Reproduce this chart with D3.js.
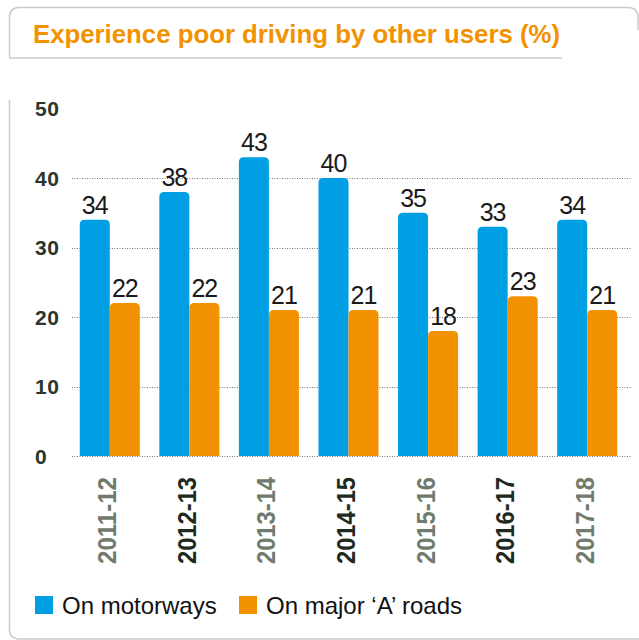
<!DOCTYPE html>
<html>
<head>
<meta charset="utf-8">
<script src="https://cdn.jsdelivr.net/npm/d3@7"></script>
<style>
  html, body { margin: 0; padding: 0; background: #fff; }
  svg { display: block; }
</style>
</head>
<body>
<svg id="chart" width="639" height="640"></svg>
<script>
// Survey years and the share (%) of respondents in each group
const years = ["2011-12", "2012-13", "2013-14", "2014-15", "2015-16", "2016-17", "2017-18"];
const motorways = [34, 38, 43, 40, 35, 33, 34];
const majorARoads = [22, 22, 21, 21, 18, 23, 21];
const seriesNames = ["On motorways", "On major \u2018A\u2019 roads"];
const yTicks = [0, 10, 20, 30, 40, 50];
const titleText = "Experience poor driving by other users (%)";

const colors = ["#009fe3", "#f39200"];
const yearColors = ["#6f7b6d", "#1f2a1f"];

const svg = d3.select("#chart");
const frameColor = "#cbcbcb";

// Title box (rounded top border, underline beneath the heading)
svg.append("path")
  .attr("d", "M9.5,58 V17 Q9.5,7.5 19.5,7.5 H628 Q638,7.5 638,17.5 V30")
  .attr("fill", "none").attr("stroke", frameColor).attr("stroke-width", 1.5);
svg.append("line")
  .attr("x1", 9.5).attr("x2", 562).attr("y1", 58).attr("y2", 58)
  .attr("stroke", frameColor).attr("stroke-width", 1.5);
svg.append("text")
  .attr("x", 33).attr("y", 43)
  .attr("font-family", "Liberation Sans, Arial, sans-serif")
  .attr("font-weight", "bold").attr("font-size", 26)
  .attr("textLength", 527).attr("lengthAdjust", "spacingAndGlyphs")
  .attr("fill", "#f39200")
  .text(titleText);

// Chart panel border (left side with rounded bottom corner)
svg.append("path")
  .attr("d", "M9.5,100 V629 Q9.5,639 19.5,639 H639")
  .attr("fill", "none").attr("stroke", frameColor).attr("stroke-width", 1.5);

// Scales
const x = d3.scaleBand().domain(years).range([70, 627]).paddingInner(0.245).paddingOuter(0.1225);
const xSub = d3.scaleBand().domain([0, 1]).range([0, x.bandwidth()]);
const y = d3.scaleLinear().domain([0, 50]).range([456, 108.5]);

// Dotted gridlines
svg.append("g").selectAll("line")
  .data(yTicks.filter(t => t < 50))
  .join("line")
  .attr("x1", 72).attr("x2", 632)
  .attr("y1", d => Math.round(y(d)) + 0.5).attr("y2", d => Math.round(y(d)) + 0.5)
  .attr("stroke", "#777").attr("stroke-width", 1).attr("stroke-dasharray", "1,1.5");

// Y tick labels
svg.append("g").selectAll("text")
  .data(yTicks)
  .join("text")
  .attr("x", 35).attr("y", d => y(d))
  .attr("dy", "0.36em")
  .attr("font-family", "Liberation Sans, Arial, sans-serif")
  .attr("font-weight", "bold").attr("font-size", 21)
  .attr("letter-spacing", 0.5)
  .attr("fill", "#2b352b")
  .text(d => d);

// Bars with rounded tops
function topRounded(x0, y0, w, h, r) {
  r = Math.min(r, h, w / 2);
  return `M${x0},${y0 + h} V${y0 + r} Q${x0},${y0} ${x0 + r},${y0} H${x0 + w - r} Q${x0 + w},${y0} ${x0 + w},${y0 + r} V${y0 + h} Z`;
}

const series = [motorways, majorARoads];
const barData = [];
series.forEach((vals, s) => vals.forEach((v, i) => barData.push({ year: years[i], s, v })));

svg.append("g").selectAll("path")
  .data(barData)
  .join("path")
  .attr("d", d => topRounded(x(d.year) + xSub(d.s), y(d.v), xSub.bandwidth(), y(0) - y(d.v), 5))
  .attr("fill", d => colors[d.s]);

// Value labels
svg.append("g").selectAll("text")
  .data(barData)
  .join("text")
  .attr("x", d => x(d.year) + xSub(d.s) + xSub.bandwidth() / 2)
  .attr("y", d => y(d.v) - 6)
  .attr("text-anchor", "middle")
  .attr("font-family", "Liberation Sans, Arial, sans-serif")
  .attr("font-size", 25)
  .attr("letter-spacing", -1)
  .attr("fill", "#1a1a1a")
  .text(d => d.v);

// Rotated year labels
svg.append("g").selectAll("text")
  .data(years)
  .join("text")
  .attr("transform", d => `translate(${x(d) + x.bandwidth() / 2 - 2.5},477) rotate(-90)`)
  .attr("text-anchor", "end")
  .attr("dy", "0.36em")
  .attr("font-family", "Liberation Sans, Arial, sans-serif")
  .attr("font-weight", "bold").attr("font-size", 25)
  .attr("textLength", 87).attr("lengthAdjust", "spacingAndGlyphs")
  .attr("fill", (d, i) => yearColors[i % 2])
  .text(d => d);

// Legend
const legendX = [35, 239];
const legend = svg.append("g").selectAll("g")
  .data(seriesNames)
  .join("g")
  .attr("transform", (d, i) => `translate(${legendX[i]},596)`);
legend.append("rect")
  .attr("width", 18).attr("height", 18)
  .attr("fill", (d, i) => colors[i]);
legend.append("text")
  .attr("x", 27).attr("y", 18)
  .attr("font-family", "Liberation Sans, Arial, sans-serif")
  .attr("font-size", 24)
  .attr("fill", "#111")
  .text(d => d);
</script>
</body>
</html>
